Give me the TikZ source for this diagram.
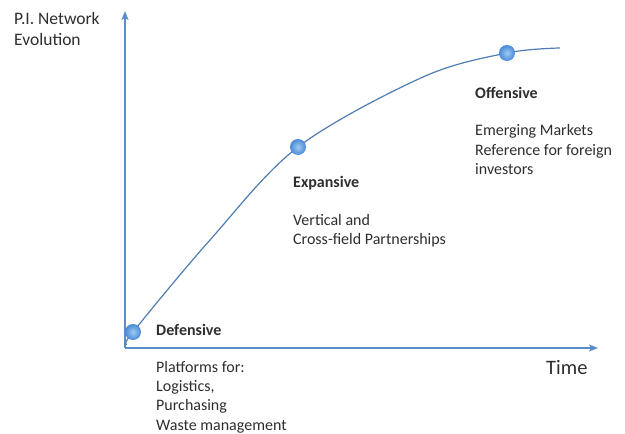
\documentclass[tikz,border=0pt]{standalone}
\usepackage{fontspec}
\setmainfont{Carlito}
\usetikzlibrary{arrows.meta}

\definecolor{axisblue}{HTML}{5B8DC8}
\definecolor{curveblue}{HTML}{4F7DB3}
\definecolor{dotlight}{HTML}{9CCAF4}
\definecolor{dotdark}{HTML}{4A8AD6}
\definecolor{labelgray}{HTML}{2E2E2E}

\newcommand{\bodysize}{\fontsize{16}{19.3}\selectfont}

\tikzset{
    axis/.style={draw=axisblue, line width=1.5pt, -{Stealth[length=9pt, width=7pt, inset=2pt]}},
    curve/.style={draw=curveblue, line width=1.2pt},
    stage/.style={circle, minimum size=16pt, inner sep=0, shading=radial, inner color=dotlight, outer color=dotdark},
    phase/.style={anchor=base west, inner sep=0, text=labelgray, font=\bodysize\bfseries},
    notes/.style={anchor=north west, inner sep=0, text=labelgray, font=\bodysize, align=left}
}

\begin{document}
\begin{tikzpicture}[x=1pt, y=-1pt]
            \useasboundingbox (0, 0) rectangle (625, 434);
            % axes
            \coordinate (origin) at (125, 348);
            \coordinate (ytop) at (125, 11);
            \coordinate (xend) at (598, 348);
            \draw[axis] (origin) -- (ytop);
            \draw[axis] (125, 348) -- (xend);
            \node[notes, font=\fontsize{17.5}{21.6}\selectfont] (ylabel) at (14, 12) {P.I. Network\\Evolution};
            \node[anchor=base west, inner sep=0, text=labelgray, font=\fontsize{20.5}{24}\selectfont] (xlabel) at (546, 374) {Time};
            % curve through the three stages
            \coordinate (start) at (127, 344);
            \coordinate (end) at (560, 48);
            \draw[curve] plot[smooth, tension=0.55] coordinates {(start) (133, 332) (210, 240) (298, 147) (423, 77) (507, 53) (end)};
            \node[stage] (def) at (133, 332) {};
            \node[stage] (exp) at (298, 147) {};
            \node[stage] (off) at (507, 53) {};
            % labels
            \node[phase] (deflabel) at (156, 335.5) {Defensive};
            \node[notes] (defnotes) at (156, 361) {Platforms for:\\Logistics,\\Purchasing\\Waste management};
            \node[phase] (explabel) at (293, 187) {Expansive};
            \node[notes] (expnotes) at (293, 214) {Vertical and\\Cross-field Partnerships};
            \node[phase] (offlabel) at (475, 98) {Offensive};
            \node[notes] (offnotes) at (475, 124.5) {Emerging Markets\\Reference for foreign\\investors};
        \end{tikzpicture}
\end{document}
